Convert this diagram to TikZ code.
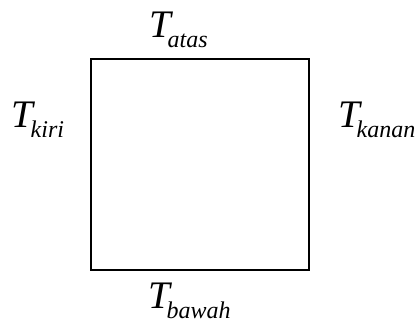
\documentclass[tikz,border=0pt]{standalone}
\usepackage{fontspec}
\setmainfont{Liberation Serif}
\newcommand{\Tlab}[1]{\fontsize{39}{39}\selectfont\itshape T\kern-3pt\raisebox{-10pt}{\fontsize{24}{24}\selectfont\itshape #1}}
\tikzset{lab/.style={anchor=base west,inner sep=0pt,outer sep=0pt}}
\begin{document}
\begin{tikzpicture}[x=1pt,y=-1pt]
\useasboundingbox (0,0) rectangle (417,323);
\node[draw,line width=1.6pt,minimum width=218pt,minimum height=211pt,inner sep=0pt,anchor=north west] (sq) at (90,58) {};
\node[lab] (atas) at (149,38) {\Tlab{atas}};
\node[lab] (kiri) at (12,128) {\Tlab{kiri}};
\node[lab] (kanan) at (338,128) {\Tlab{kanan}};
\node[lab] (bawah) at (148,308) {\Tlab{bawah}};
\end{tikzpicture}
\end{document}
